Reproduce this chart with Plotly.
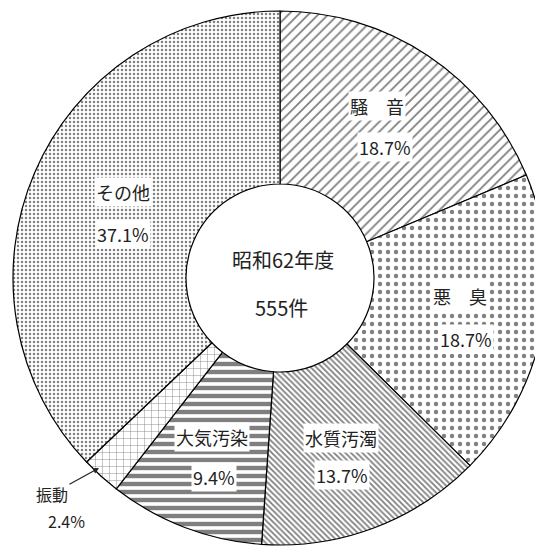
import plotly.graph_objects as go

# Data
categories = ["騒音", "悪臭", "水質汚濁", "大気汚染", "振動", "その他"]
display_labels = ["騒　音", "悪　臭", "水質汚濁", "大気汚染", "振動", "その他"]
percent = [18.7, 18.7, 13.7, 9.4, 2.4, 37.1]
center_title = "昭和62年度"
center_total = "555件"

# Styles
patterns = ["/", ".", "\\", "-", "+", "."]
pat_size = [7, 8, 4, 8, 7, 4]
pat_solid = [0.25, 0.24, 0.45, 0.55, 0.12, 0.3]

W, H = 543, 549
OFF = 8  # default page body margin
FONT = "Noto Sans CJK JP"

# pie geometry in page pixels
CX, CY, R = 280, 278, 267
fx, fy = CX - OFF, CY - OFF

fig = go.Figure(go.Pie(
    labels=categories,
    values=percent,
    sort=False,
    direction="clockwise",
    rotation=0,
    hole=0.352,
    textinfo="none",
    hoverinfo="label+percent",
    marker=dict(
        colors=["white"] * len(categories),
        line=dict(color="black", width=1.2),
        pattern=dict(shape=patterns, size=pat_size, solidity=pat_solid,
                     fgcolor="black", bgcolor="white", fillmode="overlay"),
    ),
    domain=dict(x=[(fx - R) / W, (fx + R) / W],
                y=[(H - fy - R) / H, (H - fy + R) / H]),
    showlegend=False,
))

# label positions (page pixels) for each category: (name, value)
label_pos = {
    "騒音": ((377, 106), (385, 147)),
    "悪臭": ((460, 296), (466, 339)),
    "水質汚濁": ((341, 438), (342, 475)),
    "大気汚染": ((212, 437), (214, 477)),
    "その他": ((123, 192), (123, 234)),
}

def px(x, y):
    return (x - OFF) / W, 1 - (y - OFF) / H

annotations = []
for cat, disp, p in zip(categories, display_labels, percent):
    if cat in label_pos:
        (lx, ly), (vx, vy) = label_pos[cat]
        for (tx, ty), txt in (((lx, ly), disp), ((vx, vy), f"{p}%")):
            x, y = px(tx, ty)
            annotations.append(dict(
                x=x, y=y, xref="paper", yref="paper", text=txt, showarrow=False,
                font=dict(family=FONT, size=18, color="#222"),
                bgcolor="white", borderpad=1,
                xanchor="center", yanchor="middle"))

# small slice label with leader arrow
i = categories.index("振動")
tipx, tipy = px(99, 468)
annotations.append(dict(
    x=tipx, y=tipy, xref="paper", yref="paper", text=display_labels[i],
    showarrow=True, ax=-47, ay=26, arrowhead=2, arrowsize=1, arrowwidth=1.2,
    arrowcolor="#222", font=dict(family=FONT, size=16, color="#222"),
    xanchor="center", yanchor="middle"))
x, y = px(66, 521)
annotations.append(dict(
    x=x, y=y, xref="paper", yref="paper", text=f"{percent[i]}%", showarrow=False,
    font=dict(family=FONT, size=16, color="#222"), xanchor="center", yanchor="middle"))

# center text
for (tx, ty), txt in (((283, 259), center_title), ((281, 307), center_total)):
    x, y = px(tx, ty)
    annotations.append(dict(
        x=x, y=y, xref="paper", yref="paper", text=txt, showarrow=False,
        font=dict(family=FONT, size=20, color="#222"),
        xanchor="center", yanchor="middle"))

fig.update_layout(
    width=W, height=H,
    margin=dict(l=0, r=0, t=0, b=0),
    paper_bgcolor="white", plot_bgcolor="white",
    annotations=annotations,
    shapes=[dict(type="rect", xref="paper", yref="paper", x0=(536 - OFF) / W, x1=1.0,
                 y0=0, y1=1, fillcolor="#dcdcdc", line=dict(width=0), layer="above")],
)

fig.write_html("out.html")
